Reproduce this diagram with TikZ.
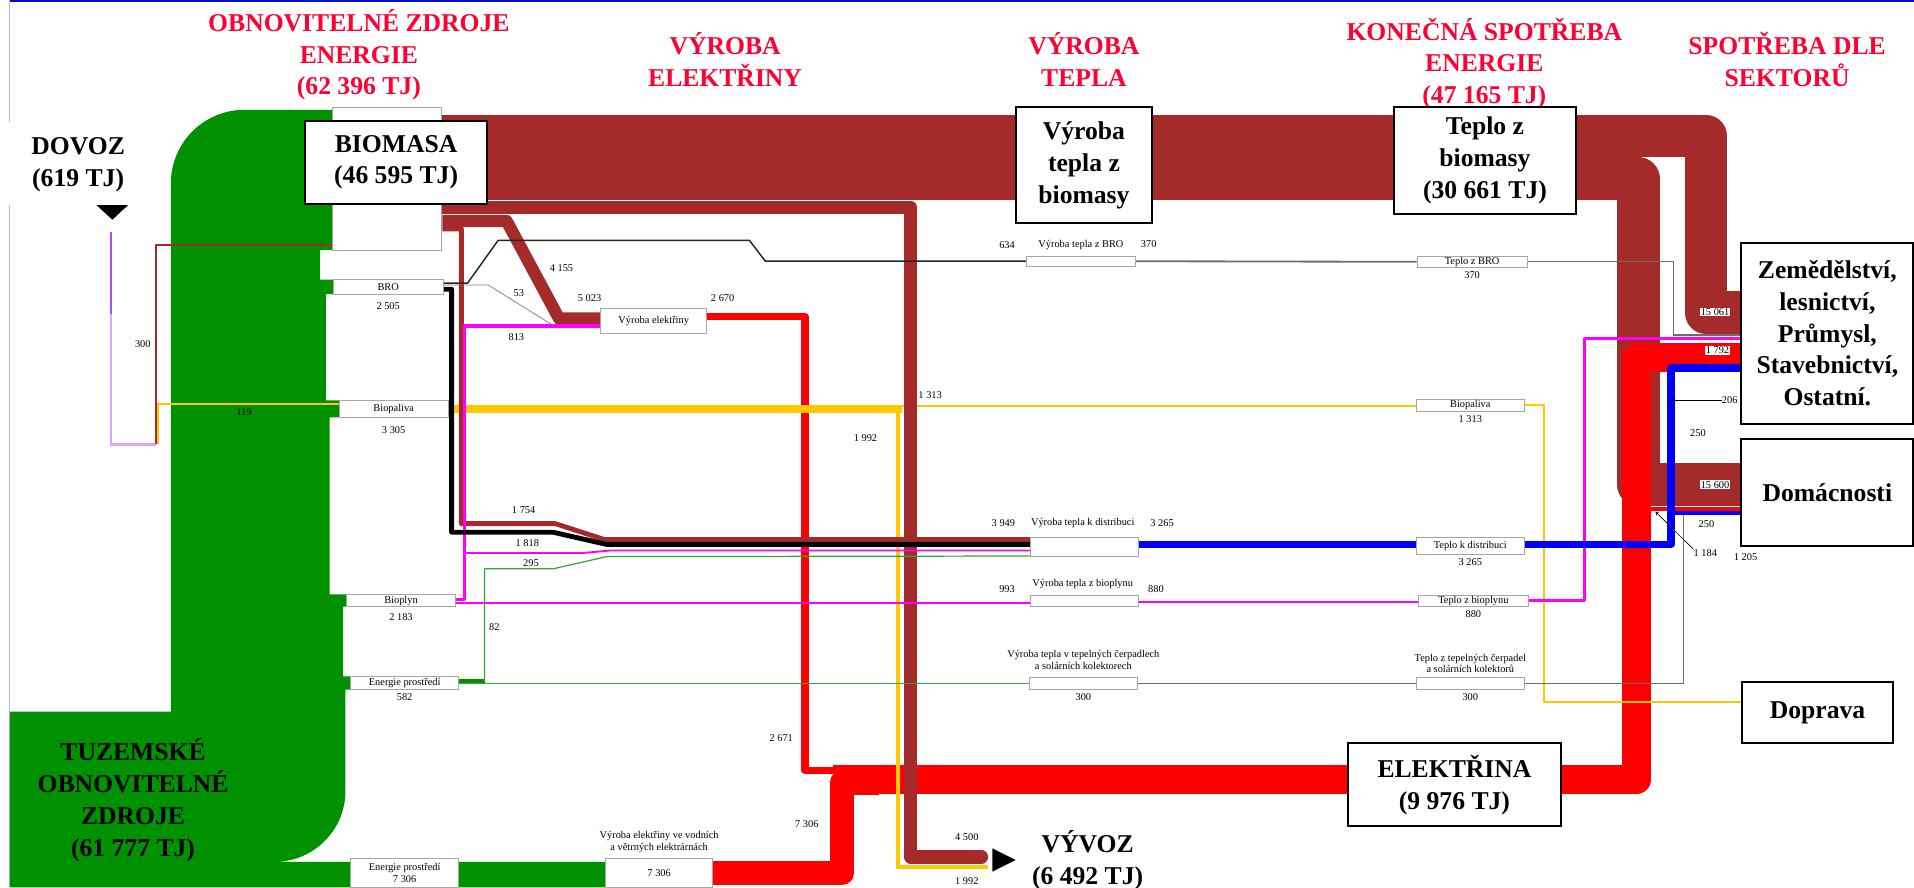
\documentclass[tikz,border=0pt]{standalone}
\usepackage{fontspec}
\setmainfont{Liberation Serif}
\usepackage{tikz}
\usetikzlibrary{positioning}
\definecolor{ZdrojGreen}{HTML}{009100}
\definecolor{BioBrown}{HTML}{A52A2A}
\definecolor{ElRed}{HTML}{FF0000}
\definecolor{FuelYellow}{HTML}{FFC800}
\definecolor{HeatBlue}{HTML}{0000FF}
\definecolor{GasPink}{HTML}{FF00FF}
\definecolor{TitleRed}{HTML}{FF0033}
\definecolor{ImpViolet}{HTML}{A64DFF}
\definecolor{ImpLilac}{HTML}{D9A6FF}
\definecolor{FrameBlue}{HTML}{0010C8}
\definecolor{LineGray}{HTML}{6E6E6E}
\pgfdeclarelayer{flows}
\pgfsetlayers{flows,main}

\begin{document}
\begin{tikzpicture}[
      x=1pt, y=-1pt,
      every node/.style={align=center, inner sep=0pt},
      bigtxt/.style={font=\fontsize{21}{26}\selectfont\bfseries},
      headline/.style={bigtxt, text=TitleRed},
      bigbox/.style={bigtxt, draw, line width=1.6pt, fill=white},
      lbl/.style={font=\fontsize{8.5}{9.5}\selectfont},
      smallbox/.style={lbl, draw=gray!70, line width=0.8pt, fill=white},
      numtag/.style={lbl, fill=white, inner sep=0.6pt},
      flow/.style={line join=round}
    ]
  \useasboundingbox (0,0) rectangle (1568,727);

  % Column headlines
  \node[headline] (tobn) at (294,45) {OBNOVITELNÉ ZDROJE\\ENERGIE\\(62 396 TJ)};
  \node[headline] (tvyel) at (594,48.5) {VÝROBA\\ELEKTŘINY};
  \node[headline] (tvyte) at (888,48.5) {VÝROBA\\TEPLA};
  \node[headline] (tkon) at (1216,52) {KONEČNÁ SPOTŘEBA\\ENERGIE\\(47 165 TJ)};
  \node[headline] (tsek) at (1464,48.5) {SPOTŘEBA DLE\\SEKTORŮ};

  % Sources and sinks
  \node[bigtxt] (dovoz) at (64,135) {DOVOZ\\(619 TJ)};
  \node[bigtxt] (vyvoz) at (891,705) {VÝVOZ\\(6 492 TJ)};
  \node[bigtxt] (tuzem) at (109,655.5) {TUZEMSKÉ\\OBNOVITELNÉ\\ZDROJE\\(61 777 TJ)};
  \fill (79,168) -- (105,168) -- (92,180) -- cycle;
  \fill (813,695) -- (832,704.5) -- (813,714) -- cycle;
  \coordinate (dovozout) at (91,190);

  % Renewable sources
  \node[draw=gray!70, line width=0.8pt, fill=white, minimum width=90pt, minimum height=117pt] (biomasa) at (317,146.5) {};
  \node[bigbox, minimum width=149pt, minimum height=68pt] (biomasabox) at (324.5,133) {BIOMASA\\(46 595 TJ)};
  \node[smallbox, minimum width=90pt, minimum height=12pt] (bro) at (318,235) {BRO};
  \node[lbl, below=6pt of bro] (vbro) {2 505};
  \node[smallbox, minimum width=89pt, minimum height=14pt] (biopal) at (322.5,335) {Biopaliva};
  \node[lbl, below=7pt of biopal] (vbiopal) {3 305};
  \node[smallbox, minimum width=89pt, minimum height=10pt] (bioplyn) at (328.5,492) {Bioplyn};
  \node[lbl, below=5pt of bioplyn] (vbioplyn) {2 183};
  \node[smallbox, minimum width=89pt, minimum height=11pt] (prostr) at (331.5,559.5) {Energie prostředí};
  \node[lbl, below=3pt of prostr] (vprostr) {582};
  \node[smallbox, minimum width=89pt, minimum height=24pt] (prostrb) at (331.5,715) {Energie prostředí\\7 306};

  % Electricity production
  \node[smallbox, minimum width=87pt, minimum height=20pt] (vyrel) at (535.5,263) {Výroba elektřiny};
  \node[smallbox, minimum width=88pt, minimum height=24pt] (vodni) at (540,715) {7 306};
  \node[lbl, above=4pt of vodni] (lvodni) {Výroba elektřiny ve vodních\\a větrných elektrárnách};

  % Heat production
  \node[bigbox, minimum width=112pt, minimum height=95pt] (vtbiom) at (888,135.5) {Výroba\\tepla z\\biomasy};
  \node[smallbox, minimum width=89pt, minimum height=8pt] (vtbro) at (885.5,214) {};
  \node[lbl, above=5pt of vtbro] (lvtbro) {Výroba tepla z BRO};
  \node[lbl] (v634) at (825,201) {634};
  \node[lbl] (v370a) at (941,200) {370};
  \node[smallbox, minimum width=89pt, minimum height=16pt] (vtdist) at (888.5,448) {};
  \node[lbl] (lvtdist) at (887,428.5) {Výroba tepla k distribuci};
  \node[lbl] (v3949) at (822,428.5) {3 949};
  \node[lbl] (v3265a) at (952,428.5) {3 265};
  \node[smallbox, minimum width=89pt, minimum height=9pt] (vtbiopl) at (888.5,492.5) {};
  \node[lbl] (lvtbiopl) at (887,478.5) {Výroba tepla z bioplynu};
  \node[lbl] (v993) at (825,482.5) {993};
  \node[lbl] (v880a) at (947,482.5) {880};
  \node[smallbox, minimum width=89pt, minimum height=10pt] (vtcerp) at (887.5,560) {};
  \node[lbl, above=6pt of vtcerp] (lvtcerp) {Výroba tepla v tepelných čerpadlech\\a solárních kolektorech};
  \node[lbl, below=3pt of vtcerp] (v300a) {300};

  % Final consumption
  \node[bigbox, minimum width=149pt, minimum height=87pt] (tbiom) at (1216.5,131.5) {Teplo z\\biomasy\\(30 661 TJ)};
  \node[smallbox, minimum width=90pt, minimum height=9pt] (tbro) at (1206,214.5) {Teplo z BRO};
  \node[lbl, below=3pt of tbro] (v370b) {370};
  \node[smallbox, minimum width=89pt, minimum height=10pt] (tbiopal) at (1204.5,332) {Biopaliva};
  \node[lbl, below=3pt of tbiopal] (vtbiopal) {1 313};
  \node[smallbox, minimum width=89pt, minimum height=14pt] (tdist) at (1204.5,447) {Teplo k distribuci};
  \node[lbl, below=3pt of tdist] (v3265b) {3 265};
  \node[smallbox, minimum width=90pt, minimum height=9pt] (tbiopl) at (1207,492.5) {Teplo z bioplynu};
  \node[lbl, below=3pt of tbiopl] (v880b) {880};
  \node[smallbox, minimum width=89pt, minimum height=10pt] (tcerp) at (1204.5,560) {};
  \node[lbl, above=3pt of tcerp] (ltcerp) {Teplo z tepelných čerpadel\\a solárních kolektorů};
  \node[lbl, below=3pt of tcerp] (v300b) {300};
  \node[bigbox, minimum width=175pt, minimum height=68pt] (elektrina) at (1191.5,643) {ELEKTŘINA\\(9 976 TJ)};

  % Sectors
  \node[bigbox, minimum width=141pt, minimum height=148pt] (zemed) at (1497,273) {Zemědělství,\\lesnictví,\\Průmysl,\\Stavebnictví,\\Ostatní.};
  \node[bigbox, minimum width=141pt, minimum height=87pt] (domac) at (1497,403.5) {Domácnosti};
  \node[bigbox, minimum width=124pt, minimum height=50pt] (doprava) at (1489,584) {Doprava};

  % Flow values
  \node[lbl] (v300imp) at (117,282) {300};
  \node[lbl] (v119) at (200,338) {119};
  \node[lbl] (v4155) at (460,220) {4 155};
  \node[lbl] (v53) at (425,240) {53};
  \node[lbl] (v5023) at (483,244) {5 023};
  \node[lbl] (v2670) at (592,244) {2 670};
  \node[lbl] (v813) at (423,276) {813};
  \node[lbl] (v1992a) at (709,359) {1 992};
  \node[lbl] (v1313) at (762,324) {1 313};
  \node[lbl] (v1754) at (429,418) {1 754};
  \node[lbl] (v1818) at (432,445) {1 818};
  \node[lbl] (v295) at (435,461) {295};
  \node[lbl] (v82) at (405,514) {82};
  \node[lbl] (v2671) at (640,605) {2 671};
  \node[lbl] (v7306) at (661,675) {7 306};
  \node[lbl] (v4500) at (792,686) {4 500};
  \node[lbl] (v1992b) at (792,722) {1 992};
  \node[numtag] (v15061) at (1405,255.5) {15 061};
  \node[numtag] (v1792) at (1407,287) {1 792};
  \node[numtag] (v15600) at (1405,397) {15 600};
  \node[lbl] (v206) at (1417,328) {206};
  \node[lbl] (v250a) at (1391,355) {250};
  \node[lbl] (v250b) at (1398,429) {250};
  \node[lbl] (v1184) at (1397,453) {1 184};
  \node[lbl] (v1205) at (1430,456) {1 205};
  \coordinate (a206) at (1369,328);
  \coordinate (a1184) at (1356,419);
  \draw[->, >=stealth, line width=0.5pt] (v206.west) -- (a206);
  \draw[->, >=stealth, line width=0.5pt] (v1184.north west) -- (a1184);

  \begin{pgfonlayer}{flows}
    % Frame
    \draw[FrameBlue, line width=1.5pt] (8,0.75) -- (1568,0.75);
    \draw[FrameBlue!30, line width=1pt] (8,0) -- (8,100) (8,168) -- (8,727);

    % Domestic renewables
    \fill[ZdrojGreen] (8,727) -- (8,583) -- (140,583) -- (140,150)
      .. controls (140,117) and (167,90) .. (200,90) -- (272,90) -- (272,205)
      -- (262,205) -- (262,229) -- (274,229) -- (274,241) -- (267,241)
      -- (267,328) -- (279,328) -- (279,342) -- (270,342) -- (270,487)
      -- (285,487) -- (285,497) -- (281,497) -- (281,554) -- (288,554)
      -- (288,565) -- (283,565) -- (283,648)
      .. controls (283,680) and (257,706) .. (225,706) -- (497,706) -- (497,727) -- cycle;

    % Biomass heat to sectors
    \draw[flow, BioBrown, line width=35pt] (biomasa.east |- 0,111.5) -| (1397.5,256) -- (zemed.west |- 0,256);
    \draw[flow, BioBrown, line width=35pt] (biomasa.east |- 0,146.5) -| (1342,397) -- (domac.west |- 0,397);
    \draw[flow, BioBrown, line width=10pt] (biomasa.east |- 0,181) -- (415,181) -- (458,261) -- (vyrel.west |- 0,261);

    % Electricity
    \draw[flow, ElRed, line width=6pt] (vyrel.east |- 0,259.5) -| (659.5,631) -- (700,631);
    \draw[flow, ElRed, line width=20pt] (vodni.east) -| (690,641) -- (720,641);
    \draw[flow, ElRed, line width=24pt] (682,638.5) -| (1340.5,293) -- (zemed.west |- 0,293);
    \draw[ElRed, line width=4pt] (1352,417) -- (domac.west |- 0,417);

    % Biofuels
    \draw[FuelYellow, line width=1pt] (129.5,364) |- (biopal.west |- 0,331);
    \draw[flow, FuelYellow, line width=7pt] (biopal.east) -- (739,335);
    \draw[flow, FuelYellow, line width=3.5pt] (735.5,336) |- (809,710.5);
    \draw[FuelYellow, line width=2pt] (739,332.5) -- (tbiopal.west |- 0,332.5);
    \draw[flow, FuelYellow, line width=2pt] (tbiopal.east) -| (1265,575) -- (doprava.west |- 0,575);

    % Export and heat for distribution
    \draw[flow, BioBrown, line width=11pt, line cap=round] (biomasa.east |- 0,170) -| (746,702) -- (804,702);
    \draw[flow, BioBrown, line width=4pt] (biomasa.east |- 0,187.5) -| (378,429) -- (455,429) -- (495,442) -- (vtdist.west |- 0,442);

    % Import
    \draw[ImpViolet, line width=2pt] (dovozout) -- (91,257);
    \draw[ImpLilac, line width=2pt] (91,257) |- (128,364);
    \draw[BioBrown, line width=1.5pt] (128,364) |- (biomasa.west |- 0,201);

    % Biogas
    \draw[flow, GasPink, line width=3pt] (bioplyn.east |- 0,491) -| (380.5,267) -- (vyrel.west |- 0,267);
    \draw[flow, GasPink, line width=1.5pt] (380.5,453) -- (478,453) -- (500,451) -- (vtdist.west |- 0,451);
    \draw[GasPink, line width=2pt] (bioplyn.east |- 0,494) -- (vtbiopl.west |- 0,494);
    \draw[GasPink, line width=2pt] (vtbiopl.east |- 0,493) -- (tbiopl.west |- 0,493);
    \draw[flow, GasPink, line width=2.5pt] (tbiopl.east |- 0,492) -| (1298,277.5) -- (zemed.west |- 0,277.5);

    % Waste (BRO)
    \draw[flow, black!85, line width=1.2pt] (bro.east |- 0,232) -- (383,232) -- (408,197) -- (614,197) -- (627,214) -- (vtbro.west);
    \draw[gray, line width=0.6pt] (bro.east |- 0,233.5) -- (400,233.5) -- (453,266.5);
    \draw[flow, black, line width=4pt] (bro.east |- 0,237) -| (370,436) -- (453,436) -- (497,446) -- (vtdist.west |- 0,446);
    \draw[LineGray, line width=1.5pt] (vtbro.east) -- (tbro.west);
    \draw[LineGray, line width=1pt] (tbro.east) -| (1371,274.5) -- (zemed.west |- 0,274.5);

    % Ambient energy
    \draw[ZdrojGreen, line width=3pt] (prostr.east |- 0,558) -- (397,558);
    \draw[flow, ZdrojGreen!80, line width=1pt] (397,558) |- (453,466) -- (497,456) -- (vtdist.west |- 0,455.5);
    \draw[ZdrojGreen!80, line width=1pt] (prostr.east |- 0,560) -- (vtcerp.west);
    \draw[LineGray, line width=1.2pt] (vtcerp.east) -- (tcerp.west);
    \draw[LineGray, line width=1pt] (tcerp.east) -| (1379,421);

    % District heat
    \draw[HeatBlue, line width=6pt] (vtdist.east |- 0,446) -- (tdist.west |- 0,446);
    \draw[flow, HeatBlue, line width=6pt] (tdist.east |- 0,446) -| (1369,301.5) -- (zemed.west |- 0,301.5);
    \draw[HeatBlue, line width=3pt] (1369,420) -- (domac.west |- 0,420);
  \end{pgfonlayer}
\end{tikzpicture}
\end{document}
